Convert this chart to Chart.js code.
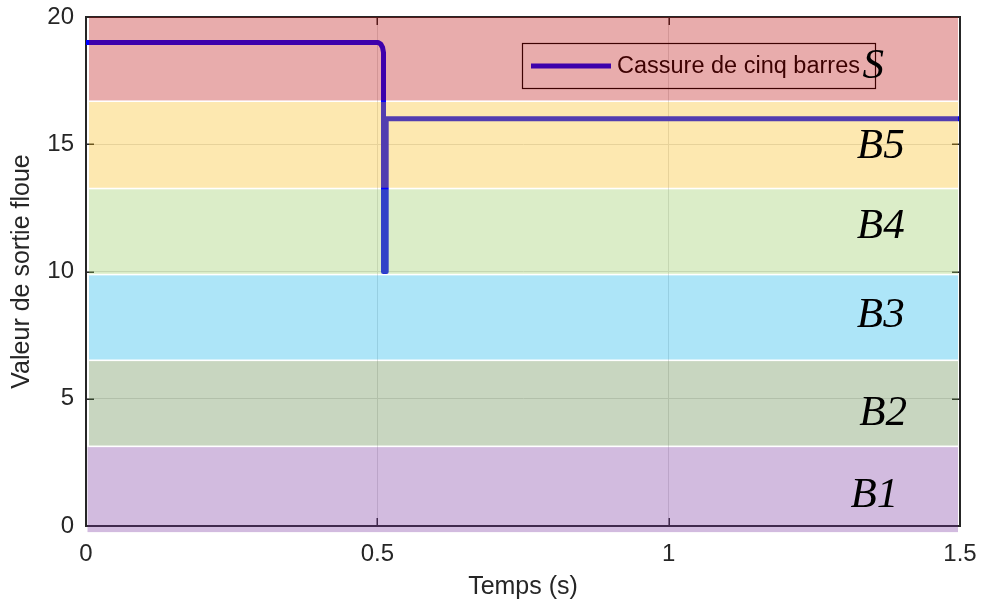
<!DOCTYPE html>
<html>
<head>
<meta charset="utf-8">
<title>Valeur de sortie floue</title>
<script src="https://cdn.jsdelivr.net/npm/chart.js@4.4.1/dist/chart.umd.min.js"></script>
<style>
  html, body { margin: 0; padding: 0; background: #ffffff; }
  #wrap { width: 984px; height: 605px; position: relative; }
</style>
</head>
<body>
<div id="wrap"><canvas id="chart"></canvas></div>
<script>
// Fuzzy output versus time for a five-bar break
const timeS       = [0, 0.501, 0.506, 0.509, 0.5106, 0.5106, 0.5152, 0.5152, 1.5];
const outputValue = [19, 19, 18.93, 18.8, 18.6, 10, 10, 16, 16];
const seriesName  = 'Cassure de cinq barres';

// Output classes (fuzzy sets) and their boundaries on the output axis
const classNames = ['B1', 'B2', 'B3', 'B4', 'B5', 'S'];
const classEdges = [-0.24, 3.13, 6.51, 9.88, 13.26, 16.69, 20];
// Where each class name is written (time, output value)
const classLabelX = [1.353, 1.368, 1.364, 1.364, 1.364, 1.351];
const classLabelY = [0.74, 3.96, 7.81, 11.3, 14.45, 17.6];

const xTicks = [0, 0.5, 1, 1.5];
const yTicks = [0, 5, 10, 15, 20];

// Styling
const bandFill = ['rgb(118,48,158)', 'rgb(88,130,64)', 'rgb(6,176,233)',
                  'rgb(145,200,88)', 'rgb(248,185,15)', 'rgb(185,3,3)'];
const bandAlpha = 0.33;
const axisColor = '#262626';
const gridColor = '#dfdfdf';
const lineColor = '#0000ff';
const sansFamily = "'Liberation Sans', Arial, sans-serif";

const points = timeS.map((t, i) => ({ x: t, y: outputValue[i] }));

const overlayPlugin = {
  id: 'overlay',
  afterDatasetsDraw(chart) {
    const { ctx, chartArea: a, scales } = chart;
    const xs = scales.x, ys = scales.y;
    ctx.save();

    // right and top box edges
    ctx.strokeStyle = axisColor;
    ctx.lineWidth = 2;
    ctx.beginPath();
    ctx.moveTo(a.left, a.top); ctx.lineTo(a.right, a.top); ctx.lineTo(a.right, a.bottom);
    ctx.stroke();

    // inward tick marks on all four sides
    ctx.lineWidth = 1.5;
    const tl = 8;
    ctx.beginPath();
    yTicks.forEach(v => {
      const py = Math.round(ys.getPixelForValue(v)) + 0.25;
      ctx.moveTo(a.left, py); ctx.lineTo(a.left + tl, py);
      ctx.moveTo(a.right, py); ctx.lineTo(a.right - tl, py);
    });
    xTicks.forEach(v => {
      const px = Math.round(xs.getPixelForValue(v)) + 0.25;
      ctx.moveTo(px, a.bottom); ctx.lineTo(px, a.bottom - tl);
      ctx.moveTo(px, a.top); ctx.lineTo(px, a.top + tl);
    });
    ctx.stroke();

    // legend box
    const bx = a.right - 438, by = a.top + 26, bw = 353, bh = 45;
    ctx.strokeStyle = '#000000';
    ctx.lineWidth = 1.2;
    ctx.strokeRect(bx + 0.5, by + 0.5, bw, bh);
    ctx.strokeStyle = lineColor;
    ctx.lineWidth = 5;
    ctx.beginPath();
    ctx.moveTo(bx + 9, by + 23); ctx.lineTo(bx + 89, by + 23);
    ctx.stroke();
    ctx.fillStyle = '#000000';
    ctx.font = "23.5px " + sansFamily;
    ctx.textBaseline = 'middle';
    ctx.textAlign = 'left';
    ctx.fillText(chart.data.datasets[0].label, bx + 95, by + 24);

    // translucent class bands laid over the plot
    ctx.globalAlpha = bandAlpha;
    for (let i = 0; i < classNames.length; i++) {
      const yTop = ys.getPixelForValue(classEdges[i + 1]) + (i === classNames.length - 1 ? 0 : 0.8);
      const yBot = ys.getPixelForValue(classEdges[i]) - (i === 0 ? 0 : 0.8);
      const xL = i === 0 ? a.left + 1.5 : a.left + 3;
      ctx.fillStyle = bandFill[i];
      ctx.fillRect(xL, yTop, a.right - 2 - xL, yBot - yTop);
    }
    ctx.globalAlpha = 1;

    // class names
    ctx.fillStyle = '#000000';
    ctx.font = "italic 43px 'Liberation Serif', 'Times New Roman', serif";
    ctx.textAlign = 'center';
    ctx.textBaseline = 'alphabetic';
    classNames.forEach((n, i) => {
      ctx.fillText(n, xs.getPixelForValue(classLabelX[i]), ys.getPixelForValue(classLabelY[i]));
    });
    ctx.restore();
  }
};

new Chart(document.getElementById('chart'), {
  type: 'line',
  data: {
    datasets: [{
      label: seriesName,
      data: points,
      borderColor: lineColor,
      backgroundColor: lineColor,
      borderWidth: 5,
      borderCapStyle: 'round',
      borderJoinStyle: 'round',
      pointRadius: 0,
      tension: 0,
      fill: false
    }]
  },
  options: {
    responsive: true,
    maintainAspectRatio: false,
    animation: false,
    devicePixelRatio: 1,
    layout: { padding: { left: 0, right: 24, top: 17, bottom: 0 } },
    plugins: { legend: { display: false }, tooltip: { enabled: false } },
    scales: {
      x: {
        type: 'linear',
        min: 0, max: 1.5,
        afterFit: s => { s.height = 79; s.paddingLeft = 0; s.paddingRight = 0; },
        afterBuildTicks: s => { s.ticks = xTicks.map(v => ({ value: v })); },
        ticks: {
          padding: 14,
          color: axisColor,
          font: { family: sansFamily, size: 24 },
          maxRotation: 0,
          callback: v => String(v)
        },
        grid: { color: gridColor, drawTicks: false, lineWidth: 1 },
        border: { display: true, color: axisColor, width: 2 },
        title: {
          display: true, text: 'Temps (s)', color: axisColor,
          font: { family: sansFamily, size: 25 },
          padding: { top: 0, bottom: 3 }
        }
      },
      y: {
        type: 'linear',
        min: 0, max: 20,
        afterFit: s => { s.width = 86; s.paddingTop = 0; s.paddingBottom = 0; },
        afterBuildTicks: s => { s.ticks = yTicks.map(v => ({ value: v })); },
        ticks: {
          padding: 12,
          color: axisColor,
          font: { family: sansFamily, size: 24 },
          callback: v => String(v)
        },
        grid: { color: gridColor, drawTicks: false, lineWidth: 1 },
        border: { display: true, color: axisColor, width: 2 },
        title: {
          display: true, text: 'Valeur de sortie floue', color: axisColor,
          font: { family: sansFamily, size: 25 },
          padding: { top: 7, bottom: 0 }
        }
      }
    }
  },
  plugins: [overlayPlugin]
});
</script>
</body>
</html>
